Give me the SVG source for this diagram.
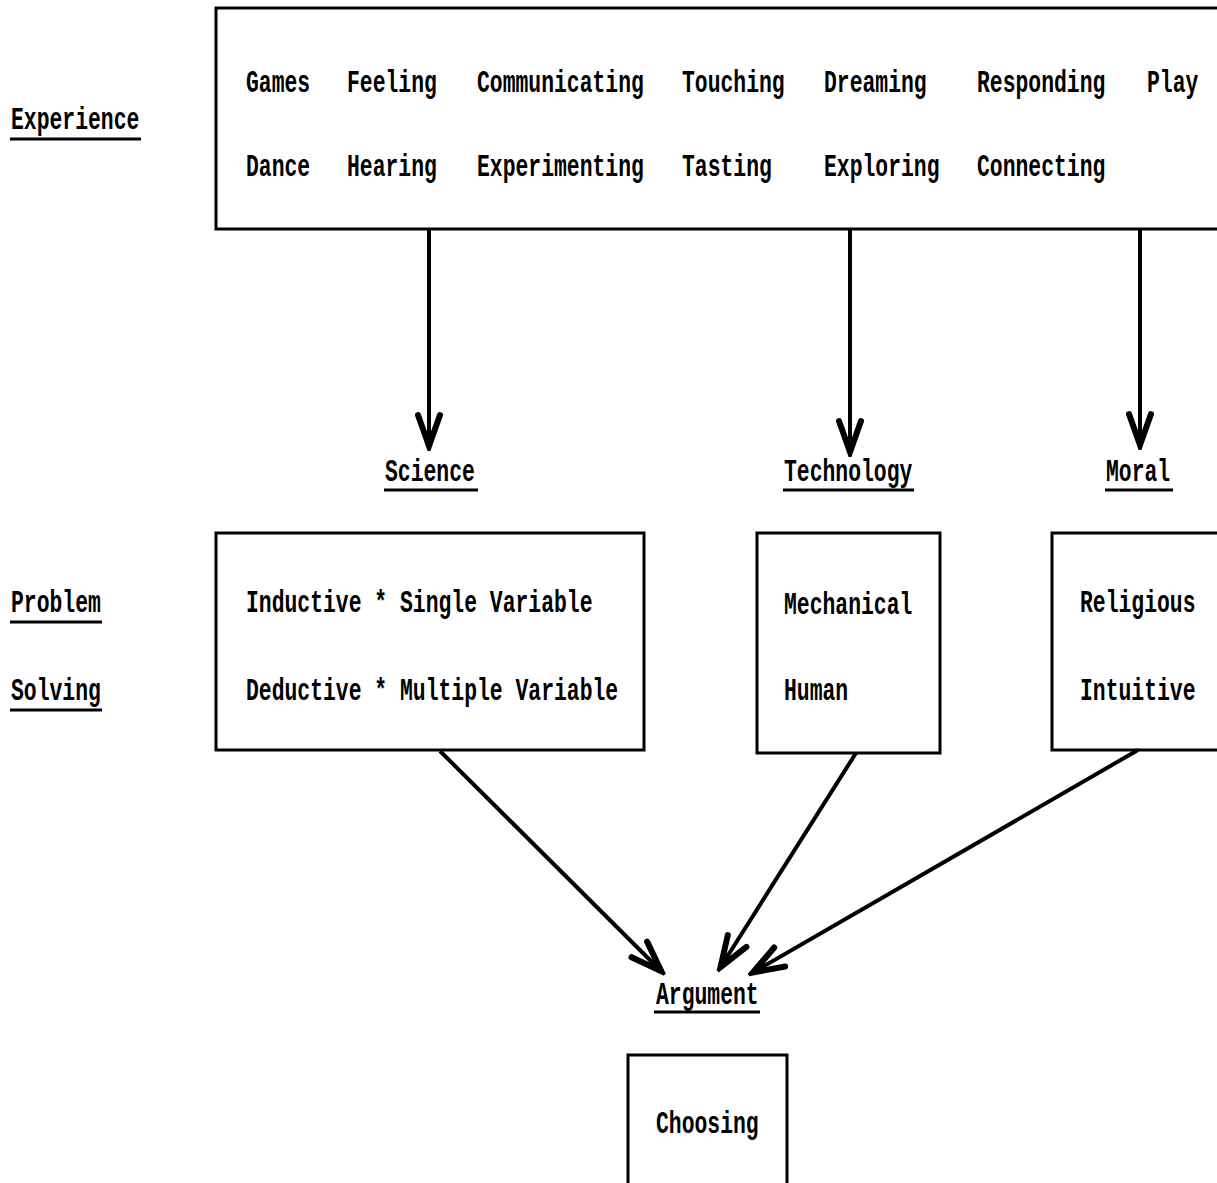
<svg xmlns="http://www.w3.org/2000/svg" width="1217" height="1183" viewBox="0 0 1217 1183">
  <style>
    .t { font-family: "Liberation Mono", "DejaVu Sans Mono", monospace; font-weight: bold; font-size: 31px; fill: #000; }
    .box { fill: none; stroke: #000; stroke-width: 3; }
    .ul { stroke: #000; stroke-width: 3; }
    .edge { stroke: #000; stroke-width: 4; fill: none; }
  </style>
  <defs>
    <!-- open V arrowhead, drawn heavy like a typewriter chart -->
    <marker id="arrow" markerUnits="userSpaceOnUse" viewBox="-40 -18 44 36" refX="0" refY="0" markerWidth="44" markerHeight="36" orient="auto">
      <path d="M -32 -11 L -1 0 L -32 11" fill="none" stroke="#000" stroke-width="6" stroke-linejoin="miter" stroke-linecap="round"/>
      <path d="M -16 -6 L 0 0 L -16 6 Z" fill="#000"/>
    </marker>
  </defs>
  <rect width="1217" height="1183" fill="#fff"/>

  <!-- side labels -->
  <g id="label-experience">
    <text class="t" transform="translate(11 129) scale(0.69 1)">Experience</text>
    <line class="ul" x1="10" y1="139" x2="141" y2="139"/>
  </g>
  <g id="label-problem-solving">
    <text class="t" transform="translate(11 612) scale(0.69 1)">Problem</text>
    <line class="ul" x1="10" y1="622" x2="102" y2="622"/>
    <text class="t" transform="translate(11 700) scale(0.69 1)">Solving</text>
    <line class="ul" x1="10" y1="710" x2="102" y2="710"/>
  </g>

  <!-- experience box -->
  <g id="experience">
    <polyline class="box" points="1220,8 216,8 216,229 1220,229"/>
    <text class="t" transform="translate(246 92) scale(0.69 1)">Games</text>
    <text class="t" transform="translate(347 92) scale(0.69 1)">Feeling</text>
    <text class="t" transform="translate(477 92) scale(0.69 1)">Communicating</text>
    <text class="t" transform="translate(682 92) scale(0.69 1)">Touching</text>
    <text class="t" transform="translate(824 92) scale(0.69 1)">Dreaming</text>
    <text class="t" transform="translate(977 92) scale(0.69 1)">Responding</text>
    <text class="t" transform="translate(1147 92) scale(0.69 1)">Play</text>
    <text class="t" transform="translate(246 176) scale(0.69 1)">Dance</text>
    <text class="t" transform="translate(347 176) scale(0.69 1)">Hearing</text>
    <text class="t" transform="translate(477 176) scale(0.69 1)">Experimenting</text>
    <text class="t" transform="translate(682 176) scale(0.69 1)">Tasting</text>
    <text class="t" transform="translate(824 176) scale(0.69 1)">Exploring</text>
    <text class="t" transform="translate(977 176) scale(0.69 1)">Connecting</text>
  </g>

  <!-- category headings and their boxes -->
  <g id="science">
    <text class="t" transform="translate(385 481) scale(0.69 1)">Science</text>
    <line class="ul" x1="384" y1="490" x2="478" y2="490"/>
    <rect class="box" x="216" y="533" width="428" height="217"/>
    <text class="t" transform="translate(246 612) scale(0.69 1)">Inductive * Single Variable</text>
    <text class="t" transform="translate(246 700) scale(0.69 1)">Deductive * Multiple Variable</text>
  </g>
  <g id="technology">
    <text class="t" transform="translate(784 481) scale(0.69 1)">Technology</text>
    <line class="ul" x1="783" y1="490" x2="914" y2="490"/>
    <rect class="box" x="757" y="533" width="183" height="220"/>
    <text class="t" transform="translate(784 614) scale(0.69 1)">Mechanical</text>
    <text class="t" transform="translate(784 700) scale(0.69 1)">Human</text>
  </g>
  <g id="moral">
    <text class="t" transform="translate(1106 481) scale(0.69 1)">Moral</text>
    <line class="ul" x1="1105" y1="490" x2="1173" y2="490"/>
    <polyline class="box" points="1220,533 1052,533 1052,750 1220,750"/>
    <text class="t" transform="translate(1080 612) scale(0.69 1)">Religious</text>
    <text class="t" transform="translate(1080 700) scale(0.69 1)">Intuitive</text>
  </g>
  <g id="argument">
    <text class="t" transform="translate(656 1004) scale(0.69 1)">Argument</text>
    <line class="ul" x1="654" y1="1012" x2="760" y2="1012"/>
  </g>
  <g id="choosing">
    <polyline class="box" points="628,1190 628,1055 787,1055 787,1190"/>
    <text class="t" transform="translate(656 1133) scale(0.69 1)">Choosing</text>
  </g>

  <!-- connectors -->
  <g id="connectors">
    <line class="edge" x1="429" y1="229" x2="429" y2="447" marker-end="url(#arrow)"/>
    <line class="edge" x1="850" y1="229" x2="850" y2="453" marker-end="url(#arrow)"/>
    <line class="edge" x1="1140" y1="229" x2="1140" y2="446" marker-end="url(#arrow)"/>
    <line class="edge" x1="440" y1="751" x2="662" y2="972" marker-end="url(#arrow)"/>
    <line class="edge" x1="856" y1="753" x2="720" y2="968" marker-end="url(#arrow)"/>
    <line class="edge" x1="1138" y1="750" x2="752" y2="973" marker-end="url(#arrow)"/>
  </g>
</svg>
